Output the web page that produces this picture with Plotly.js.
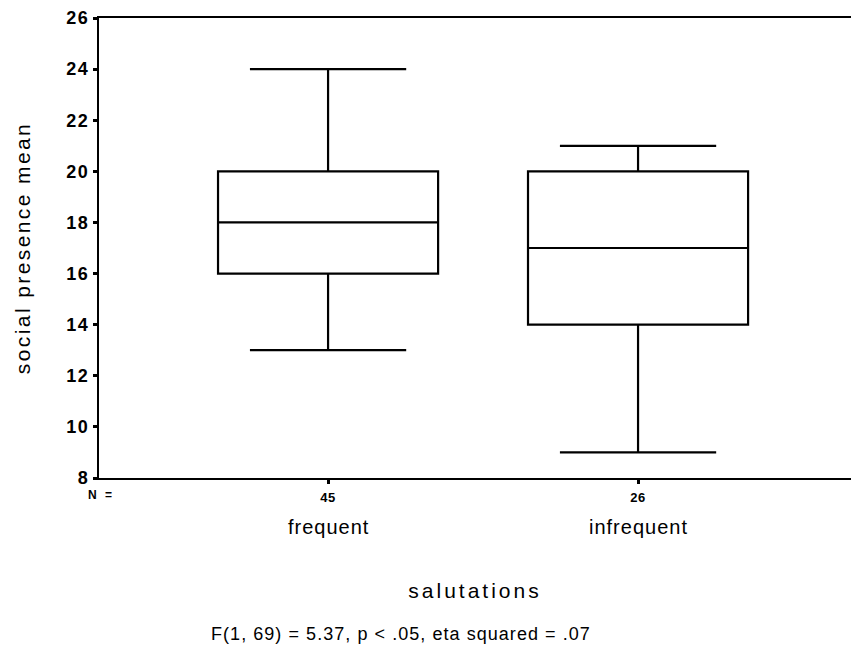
<!DOCTYPE html>
<html>
<head>
<meta charset="utf-8">
<script src="https://cdn.plot.ly/plotly-3.0.1.min.js"></script>
<style>html,body{margin:0;padding:0;background:#fff;overflow:hidden;}</style>
</head>
<body>
<div id="chart" style="width:851px;height:660px;"></div>
<script>
// Data
const categories = ["frequent", "infrequent"];
const nLabels = ["45", "26"];
const lowerWhisker = [13, 9];
const q1 = [16, 14];
const medians = [18, 17];
const q3 = [20, 20];
const upperWhisker = [24, 21];
const xAxisTitle = "salutations";
const yAxisTitle = "social presence mean";
const footnote = "F(1, 69) = 5.37, p < .05, eta squared = .07";
const yTicks = [8, 10, 12, 14, 16, 18, 20, 22, 24, 26];

const FONT = "Liberation Sans, Arial, Helvetica, sans-serif";
const idx = categories.map((c, i) => i);

const trace = {
  type: "box",
  x: idx,
  q1: q1,
  median: medians,
  q3: q3,
  lowerfence: lowerWhisker,
  upperfence: upperWhisker,
  width: 0.71,
  whiskerwidth: 0.71,
  fillcolor: "#ffffff",
  line: {color: "#000000", width: 2.2},
  boxpoints: false,
  hoverinfo: "skip",
  showlegend: false
};

const ls = (t, px) => '<span style="letter-spacing:' + px + 'px">' + t + '</span>';

const L = 99, R = 0, T = 18, B = 182, W = 851, H = 660;
const pw = W - L - R, ph = H - T - B;
const py = (pix) => (H - B - pix) / ph;
const px = (pix) => (pix - L) / pw;

const annotations = categories.map((c, i) => ({
  x: i, xref: "x", y: py(527), yref: "paper", yanchor: "middle", xanchor: "center",
  text: ls(c, 1), showarrow: false,
  font: {family: FONT, size: 20, color: "#000"}
}));
annotations.push({
  x: px(101), xref: "paper", y: py(495), yref: "paper",
  xanchor: "center", yanchor: "middle",
  text: ls("N =", 2.5), showarrow: false,
  font: {family: FONT, size: 12, color: "#000", weight: "bold"}
});
annotations.push({
  x: px(209), xref: "paper", y: py(634), yref: "paper",
  xanchor: "left", yanchor: "middle",
  text: ls(footnote, 1.05), showarrow: false,
  font: {family: FONT, size: 18, color: "#000"}
});

const layout = {
  width: W, height: H,
  margin: {l: L, r: R, t: T, b: B, pad: 0},
  paper_bgcolor: "#ffffff",
  plot_bgcolor: "#ffffff",
  font: {family: FONT, color: "#000"},
  showlegend: false,
  xaxis: {
    range: [-0.739, 1.687],
    tickmode: "array",
    tickvals: idx,
    ticktext: nLabels.map(t => ls(t, 0.5)),
    tickfont: {family: FONT, size: 13, weight: "bold"},
    ticks: "outside", ticklen: 4, tickwidth: 3, tickcolor: "#000",
    ticklabelstandoff: 2,
    showline: true, linecolor: "#000", linewidth: 2.2, mirror: true,
    showgrid: false, zeroline: false,
    title: {text: ls(xAxisTitle, 3), font: {family: FONT, size: 21}, standoff: 80}
  },
  yaxis: {
    range: [8, 26],
    tickmode: "array",
    tickvals: yTicks,
    ticktext: yTicks.map(v => ls(String(v), 1.5)),
    tickfont: {family: FONT, size: 18, weight: "bold"},
    ticks: "outside", ticklen: 4, tickwidth: 3, tickcolor: "#000",
    showline: true, linecolor: "#000", linewidth: 2.2, mirror: false,
    showgrid: false, zeroline: false,
    title: {text: ls(yAxisTitle, 2.4), font: {family: FONT, size: 21}, standoff: 30}
  },
  annotations: annotations
};

Plotly.newPlot("chart", [trace], layout, {displayModeBar: false, staticPlot: true});
</script>
</body>
</html>
